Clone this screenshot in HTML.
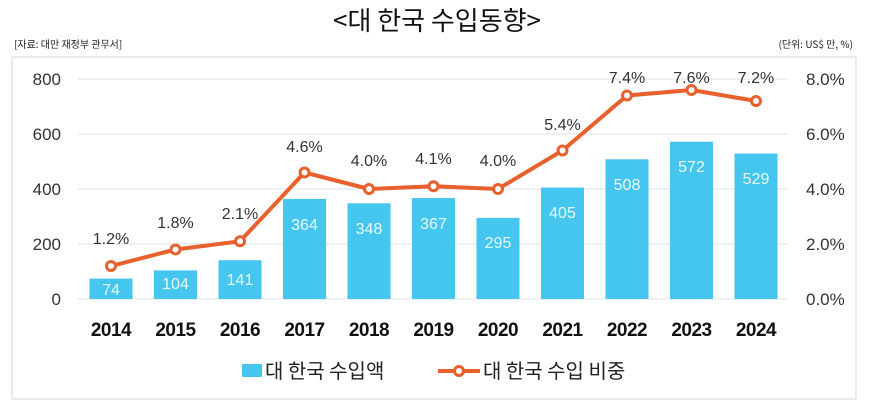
<!DOCTYPE html>
<html><head><meta charset="utf-8"><style>
body{margin:0;background:#fff;}
svg{display:block;font-family:"Liberation Sans","Noto Sans CJK KR",sans-serif;}
</style></head><body>
<svg width="886" height="409" viewBox="0 0 886 409" xmlns="http://www.w3.org/2000/svg">
<text x="437" y="30" text-anchor="middle" font-size="26" fill="#111" font-family="'Noto Sans CJK KR',sans-serif">&lt;대 한국 수입동향&gt;</text>
<text x="14" y="48" font-size="10" fill="#222" font-family="'Noto Sans CJK KR',sans-serif">[자료: 대만 재정부 관무서]</text>
<text x="853" y="48" text-anchor="end" font-size="10" fill="#222" font-family="'Noto Sans CJK KR',sans-serif">(단위: US$ 만, %)</text>
<rect x="12" y="57" width="844" height="342" fill="#fff" stroke="#dfe4e8" stroke-width="1.5"/>
<g stroke="#dde3e8" stroke-width="1">
<line x1="78" y1="79" x2="788" y2="79"/><line x1="78" y1="134" x2="788" y2="134"/>
<line x1="78" y1="189" x2="788" y2="189"/><line x1="78" y1="244" x2="788" y2="244"/>
<line x1="78" y1="299" x2="788" y2="299"/>
</g>
<g font-size="17" fill="#333" text-anchor="end">
<text x="61" y="85">800</text><text x="61" y="140">600</text><text x="61" y="195">400</text><text x="61" y="250">200</text><text x="61" y="305">0</text>
</g>
<g font-size="17" fill="#333">
<text x="806" y="85">8.0%</text><text x="806" y="140">6.0%</text><text x="806" y="195">4.0%</text><text x="806" y="250">2.0%</text><text x="806" y="305">0.0%</text>
</g>
<g fill="#45c6ef">
<rect x="89.5" y="278.6" width="43" height="20.4"/>
<rect x="154" y="270.4" width="43" height="28.6"/>
<rect x="218.5" y="260.2" width="43" height="38.8"/>
<rect x="283" y="198.9" width="43" height="100.1"/>
<rect x="347.5" y="203.3" width="43" height="95.7"/>
<rect x="412" y="198.1" width="43" height="100.9"/>
<rect x="476.5" y="217.9" width="43" height="81.1"/>
<rect x="541" y="187.6" width="43" height="111.4"/>
<rect x="605.5" y="159.3" width="43" height="139.7"/>
<rect x="670" y="141.7" width="43" height="157.3"/>
<rect x="734.5" y="153.5" width="43" height="145.5"/>
</g>
<g font-size="16" fill="#e8f8fd" text-anchor="middle">
<text x="111" y="295">74</text><text x="175.5" y="289">104</text><text x="240" y="285">141</text>
<text x="304.5" y="230">364</text><text x="369" y="234">348</text><text x="433.5" y="229">367</text>
<text x="498" y="248">295</text><text x="562.5" y="218">405</text><text x="627" y="190">508</text>
<text x="691.5" y="172">572</text><text x="756" y="184">529</text>
</g>
<polyline fill="none" stroke="#e8602c" stroke-width="4" stroke-linejoin="round" points="111,266 175.5,249.5 240,241.3 304.5,172.5 369,189 433.5,186.3 498,189 562.5,150.5 627,95.5 691.5,90 756,101"/>
<g fill="#fff" stroke="#e8602c" stroke-width="3">
<circle cx="111" cy="266" r="4.5"/><circle cx="175.5" cy="249.5" r="4.5"/><circle cx="240" cy="241.3" r="4.5"/>
<circle cx="304.5" cy="172.5" r="4.5"/><circle cx="369" cy="189" r="4.5"/><circle cx="433.5" cy="186.3" r="4.5"/>
<circle cx="498" cy="189" r="4.5"/><circle cx="562.5" cy="150.5" r="4.5"/><circle cx="627" cy="95.5" r="4.5"/>
<circle cx="691.5" cy="90" r="4.5"/><circle cx="756" cy="101" r="4.5"/>
</g>
<g font-size="16" fill="#333" text-anchor="middle">
<text x="111" y="244">1.2%</text><text x="175.5" y="228">1.8%</text><text x="240" y="219">2.1%</text>
<text x="304.5" y="152">4.6%</text><text x="369" y="166">4.0%</text><text x="433.5" y="164">4.1%</text>
<text x="498" y="166">4.0%</text><text x="562.5" y="130">5.4%</text><text x="627" y="83">7.4%</text>
<text x="691.5" y="83">7.6%</text><text x="756" y="83">7.2%</text>
</g>
<g font-size="19" font-weight="bold" fill="#111" text-anchor="middle" letter-spacing="-0.5">
<text x="111" y="336">2014</text><text x="175.5" y="336">2015</text><text x="240" y="336">2016</text>
<text x="304.5" y="336">2017</text><text x="369" y="336">2018</text><text x="433.5" y="336">2019</text>
<text x="498" y="336">2020</text><text x="562.5" y="336">2021</text><text x="627" y="336">2022</text>
<text x="691.5" y="336">2023</text><text x="756" y="336">2024</text>
</g>
<rect x="242" y="364" width="20" height="13" fill="#45c6ef"/>
<text x="265" y="378" font-size="20" fill="#222" font-family="'Noto Sans CJK KR',sans-serif">대 한국 수입액</text>
<line x1="438" y1="371" x2="480" y2="371" stroke="#e8602c" stroke-width="4"/>
<circle cx="459" cy="371" r="4.5" fill="#fff" stroke="#e8602c" stroke-width="3"/>
<text x="483" y="378" font-size="20" fill="#222" font-family="'Noto Sans CJK KR',sans-serif">대 한국 수입 비중</text>
</svg>
</body></html>
